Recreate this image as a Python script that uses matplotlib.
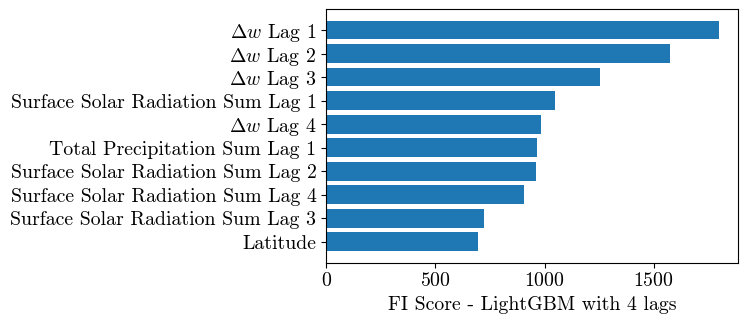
import matplotlib
matplotlib.use("Agg")
import matplotlib.pyplot as plt

plt.rcParams["font.family"] = "serif"
plt.rcParams["font.serif"] = ["cmr10"]
plt.rcParams["mathtext.fontset"] = "cm"
plt.rcParams["axes.formatter.use_mathtext"] = True
plt.rcParams["font.size"] = 14.3

features = [
    r"$\Delta w$ Lag 1",
    r"$\Delta w$ Lag 2",
    r"$\Delta w$ Lag 3",
    "Surface Solar Radiation Sum Lag 1",
    r"$\Delta w$ Lag 4",
    "Total Precipitation Sum Lag 1",
    "Surface Solar Radiation Sum Lag 2",
    "Surface Solar Radiation Sum Lag 4",
    "Surface Solar Radiation Sum Lag 3",
    "Latitude",
]
scores = [1797, 1574, 1253, 1046, 983, 966, 962, 908, 722, 695]

fig = plt.figure(figsize=(7.48, 3.22), dpi=100)
ax = fig.add_axes([0.436, 0.184, 0.551, 0.788])

# plot reversed so the biggest one sits on top
ax.barh(features[::-1], scores[::-1], color="#1f77b4")
ax.set_xlabel("FI Score - LightGBM with 4 lags")
ax.set_xticks([0, 500, 1000, 1500])

fig.savefig("out.png", dpi=100)
